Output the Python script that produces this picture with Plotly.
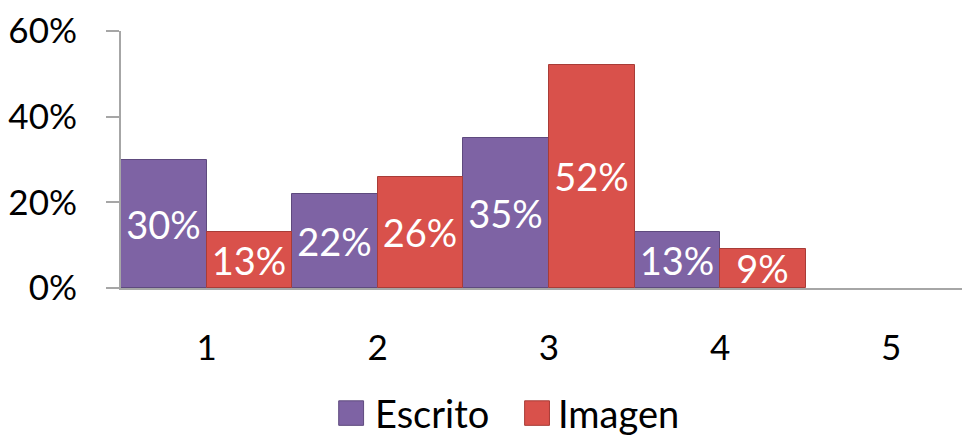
import plotly.graph_objects as go

categories = [1, 2, 3, 4, 5]
escrito = [0.30, 0.22, 0.35, 0.13, None]
imagen = [0.13, 0.26, 0.52, 0.09, None]
escrito_labels = ["30%", "22%", "35%", "13%", ""]
imagen_labels = ["13%", "26%", "52%", "9%", ""]
y_ticks = [0, 0.2, 0.4, 0.6]
y_tick_labels = ["0%", "20%", "40%", "60%"]

FONT = "Lato"
PURPLE = "#7E63A4"
RED = "#D9514B"

fig = go.Figure()
fig.add_trace(go.Bar(x=categories, y=escrito, name="Escrito", text=escrito_labels,
                     marker=dict(color=PURPLE, line=dict(color="#5E4A7E", width=1)),
                     textposition="inside", insidetextanchor="middle",
                     textfont=dict(family=FONT, size=38, color="white"),
                     showlegend=False))
fig.add_trace(go.Bar(x=categories, y=imagen, name="Imagen", text=imagen_labels,
                     marker=dict(color=RED, line=dict(color="#A83C37", width=1)),
                     textposition="inside", insidetextanchor="middle",
                     textfont=dict(family=FONT, size=38, color="white"),
                     showlegend=False))

# legend drawn by hand so the swatches can be as big as in the original
# (pixel positions measured on the reference picture)
def px_x(px):
    return (px - 116) / 854

def px_y(py):
    return (288 - py) / 262

for name, color, line, x0, x1, tx in [("Escrito", PURPLE, "#5E4A7E", 335, 360, 369),
                                       ("Imagen", RED, "#A83C37", 522, 547, 554)]:
    fig.add_shape(type="rect", xref="paper", yref="paper",
                  x0=px_x(x0), x1=px_x(x1), y0=px_y(428), y1=px_y(403),
                  fillcolor=color, line=dict(color=line, width=1))
    fig.add_annotation(text=name, xref="paper", yref="paper", x=px_x(tx), y=px_y(415),
                       xanchor="left", yanchor="middle", showarrow=False,
                       font=dict(family=FONT, size=38, color="black"))

# the page body has an 8px margin, so the figure is 8px smaller than the window
fig.update_layout(
    width=962, height=431,
    margin=dict(l=108, r=0, t=18, b=151),
    plot_bgcolor="white", paper_bgcolor="white",
    barmode="group", bargap=0, bargroupgap=0,
    uniformtext=dict(minsize=38, mode="show"),
    font=dict(family=FONT, color="black"),
)
fig.update_xaxes(range=[0.5, 5.46], tickvals=categories, ticks="",
                 showline=True, linecolor="#A6A6A6", linewidth=2, showgrid=False,
                 tickfont=dict(family=FONT, size=35), ticklabelstandoff=28)
fig.update_yaxes(range=[0, 0.6], tickvals=y_ticks, ticktext=y_tick_labels,
                 ticks="outside", ticklen=13, tickcolor="#A6A6A6", tickwidth=2,
                 showline=True, linecolor="#A6A6A6", linewidth=2, showgrid=False,
                 zeroline=False, tickfont=dict(family=FONT, size=35),
                 ticklabelstandoff=22, ticklabeloverflow="allow")

fig.write_html("out.html")
